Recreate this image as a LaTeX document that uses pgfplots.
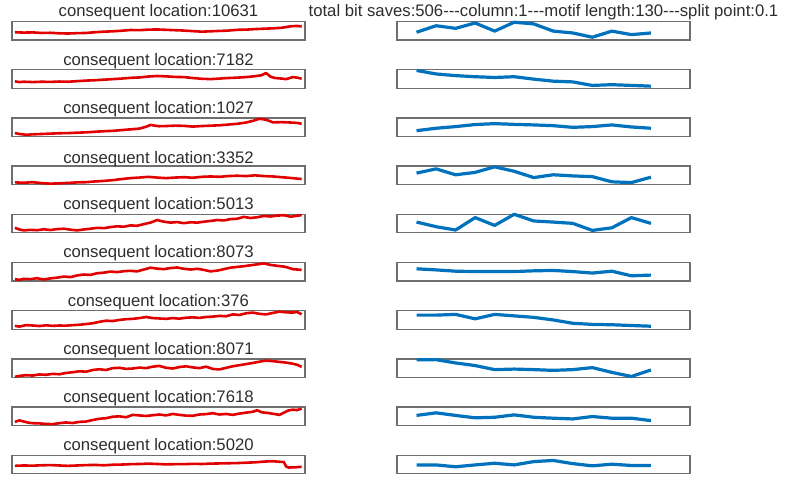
\documentclass[border=0pt]{standalone}
\usepackage{fontspec}
\setmainfont{Liberation Sans}
\usepackage{pgfplots}
\pgfplotsset{compat=1.18}
\definecolor{mred}{RGB}{225,0,0}
\definecolor{mblue}{RGB}{0,114,189}
\definecolor{frm}{RGB}{110,110,110}
\definecolor{txt}{RGB}{45,45,45}
\pgfplotsset{
 every axis title/.style={at={(0.5,1)}, anchor=base, yshift=4.5pt,
   font=\fontsize{16.7}{18}\selectfont, text=txt, inner sep=0pt},
 cell/.style={scale only axis, width=293pt, height=18.5pt,
   axis line style={frm, line width=1.3pt}, xtick=\empty, ytick=\empty,
   ymin=0, ymax=1, anchor=south west, clip=false},
 leftcell/.style={cell, xmin=-0.3, xmax=131.5},
 rightcell/.style={cell, xmin=0, xmax=15},
 rl/.style={mred, line width=2.6pt, line join=round},
 bl/.style={mblue, line width=3.2pt, line join=round},
}
\begin{document}
\begin{tikzpicture}
\path[use as bounding box] (0,0) rectangle (785pt,477pt);
% ---------- row 1
\begin{axis}[leftcell, at={(12pt,437pt)}, title={consequent location:10631}]
\addplot[rl] coordinates {(1,.42)(5,.40)(9,.41)(13,.38)(17,.39)(21,.36)(25,.35)(29,.37)(33,.38)(37,.42)(41,.45)(45,.47)(49,.50)(53,.54)(57,.53)(61,.56)(65,.57)(69,.55)(73,.53)(77,.51)(81,.48)(85,.45)(89,.47)(93,.49)(97,.51)(101,.55)(105,.56)(109,.59)(113,.61)(117,.63)(121,.66)(125,.74)(128,.76)(130,.73)};
\end{axis}
\begin{axis}[rightcell, at={(397pt,437pt)}, title={total bit saves:506-{}-{}-column:1-{}-{}-motif length:130-{}-{}-split point:0.1}]
\addplot[bl] coordinates {(1,.42)(2,.77)(3,.63)(4,.92)(5,.48)(6,.96)(7,.87)(8,.48)(9,.38)(10,.15)(11,.48)(12,.29)(13,.38)};
\end{axis}
% ---------- row 2
\begin{axis}[leftcell, at={(12pt,388.8pt)}, title={consequent location:7182}]
\addplot[rl] coordinates {(1,.37)(3,.33)(5,.35)(9,.33)(13,.35)(17,.34)(21,.36)(25,.35)(29,.38)(33,.41)(37,.43)(41,.46)(45,.49)(49,.52)(53,.56)(57,.58)(61,.63)(65,.66)(69,.64)(73,.61)(77,.60)(81,.55)(85,.51)(89,.49)(93,.52)(97,.55)(101,.57)(105,.60)(109,.65)(112,.70)(114,.82)(116,.62)(118,.55)(121,.52)(123,.49)(126,.60)(128,.57)(130,.51)};
\end{axis}
\begin{axis}[rightcell, at={(397pt,388.8pt)}]
\addplot[bl] coordinates {(1,.96)(2,.77)(3,.68)(4,.62)(5,.58)(6,.62)(7,.49)(8,.38)(9,.34)(10,.15)(11,.19)(12,.15)(13,.11)};
\end{axis}
% ---------- row 3
\begin{axis}[leftcell, at={(12pt,340.6pt)}, title={consequent location:1027}]
\addplot[rl] coordinates {(1,.18)(3,.13)(6,.09)(9,.11)(13,.13)(17,.15)(21,.17)(25,.18)(29,.20)(33,.22)(37,.25)(41,.28)(45,.30)(49,.34)(53,.38)(57,.42)(60,.52)(62,.62)(64,.58)(66,.55)(69,.56)(73,.58)(77,.57)(81,.53)(85,.56)(89,.58)(93,.60)(97,.64)(101,.68)(105,.75)(108,.84)(111,.95)(113,.92)(115,.86)(117,.76)(121,.77)(125,.75)(128,.73)(130,.68)};
\end{axis}
\begin{axis}[rightcell, at={(397pt,340.6pt)}]
\addplot[bl] coordinates {(1,.31)(2,.44)(3,.53)(4,.64)(5,.69)(6,.65)(7,.62)(8,.58)(9,.49)(10,.53)(11,.62)(12,.51)(13,.44)};
\end{axis}
% ---------- row 4
\begin{axis}[leftcell, at={(12pt,292.4pt)}, title={consequent location:3352}, title style={yshift=-1.5pt}]
\addplot[rl] coordinates {(1,.12)(5,.10)(9,.13)(13,.08)(17,.05)(21,.07)(25,.09)(29,.12)(33,.13)(37,.17)(41,.20)(45,.24)(49,.30)(53,.35)(57,.38)(61,.42)(65,.38)(69,.35)(73,.38)(77,.40)(81,.37)(85,.42)(89,.44)(93,.42)(97,.46)(101,.48)(105,.46)(109,.50)(113,.46)(117,.44)(121,.40)(125,.36)(130,.30)};
\end{axis}
\begin{axis}[rightcell, at={(397pt,292.4pt)}]
\addplot[bl] coordinates {(1,.62)(2,.85)(3,.53)(4,.66)(5,.96)(6,.72)(7,.38)(8,.53)(9,.47)(10,.43)(11,.15)(12,.11)(13,.40)};
\end{axis}
% ---------- row 5
\begin{axis}[leftcell, at={(12pt,244.2pt)}, title={consequent location:5013}]
\addplot[rl] coordinates {(1,.27)(3,.18)(5,.13)(8,.16)(11,.14)(14,.19)(17,.15)(20,.20)(23,.22)(26,.17)(29,.13)(32,.18)(35,.22)(38,.27)(41,.25)(44,.31)(47,.35)(50,.33)(53,.40)(56,.38)(59,.47)(62,.55)(65,.69)(68,.60)(71,.55)(74,.58)(77,.52)(80,.57)(83,.55)(86,.60)(89,.64)(92,.69)(95,.67)(98,.74)(101,.76)(104,.86)(107,.80)(110,.84)(113,.91)(116,.88)(119,.93)(122,.95)(125,.87)(128,.92)(130,.96)};
\end{axis}
\begin{axis}[rightcell, at={(397pt,244.2pt)}]
\addplot[bl] coordinates {(1,.58)(2,.33)(3,.15)(4,.82)(5,.40)(6,1.0)(7,.64)(8,.58)(9,.51)(10,.13)(11,.27)(12,.82)(13,.51)};
\end{axis}
% ---------- row 6
\begin{axis}[leftcell, at={(12pt,196pt)}, title={consequent location:8073}]
\addplot[rl] coordinates {(1,.10)(3,.06)(5,.12)(8,.10)(11,.15)(14,.08)(17,.14)(20,.18)(23,.24)(26,.21)(29,.30)(32,.35)(35,.33)(38,.42)(41,.45)(44,.51)(47,.48)(50,.53)(53,.55)(56,.52)(59,.62)(62,.72)(65,.67)(68,.64)(71,.70)(74,.73)(77,.66)(80,.62)(83,.66)(86,.60)(89,.52)(92,.56)(95,.64)(98,.72)(101,.76)(104,.80)(107,.85)(110,.90)(113,.95)(116,.87)(119,.82)(122,.78)(124,.72)(126,.64)(128,.62)(130,.60)};
\end{axis}
\begin{axis}[rightcell, at={(397pt,196pt)}]
\addplot[bl] coordinates {(1,.66)(2,.60)(3,.53)(4,.51)(5,.51)(6,.51)(7,.55)(8,.57)(9,.51)(10,.43)(11,.53)(12,.28)(13,.32)};
\end{axis}
% ---------- row 7
\begin{axis}[leftcell, at={(12pt,147.8pt)}, title={consequent location:376}]
\addplot[rl] coordinates {(1,.18)(3,.14)(6,.22)(9,.20)(12,.17)(15,.21)(18,.18)(21,.20)(24,.19)(27,.22)(30,.24)(33,.28)(36,.32)(39,.40)(42,.46)(45,.44)(48,.50)(51,.54)(54,.56)(57,.60)(60,.66)(63,.60)(66,.58)(69,.56)(72,.60)(75,.57)(78,.62)(81,.64)(84,.61)(87,.66)(90,.68)(93,.72)(96,.70)(99,.80)(102,.77)(105,.86)(108,.90)(111,.83)(114,.80)(117,.88)(120,.95)(123,.91)(126,.90)(128,.93)(130,.80)};
\end{axis}
\begin{axis}[rightcell, at={(397pt,147.8pt)}]
\addplot[bl] coordinates {(1,.76)(2,.76)(3,.80)(4,.56)(5,.80)(6,.72)(7,.64)(8,.50)(9,.32)(10,.26)(11,.24)(12,.20)(13,.16)};
\end{axis}
% ---------- row 8
\begin{axis}[leftcell, at={(12pt,99.6pt)}, title={consequent location:8071}]
\addplot[rl] coordinates {(1,.03)(3,.08)(6,.12)(9,.10)(12,.16)(15,.14)(18,.19)(21,.17)(24,.24)(27,.28)(30,.33)(33,.31)(36,.40)(39,.44)(42,.40)(45,.50)(48,.52)(51,.46)(54,.48)(57,.53)(60,.50)(63,.58)(66,.62)(69,.52)(72,.48)(75,.56)(78,.60)(81,.54)(84,.50)(87,.58)(90,.46)(93,.43)(96,.52)(99,.60)(102,.66)(105,.72)(108,.78)(111,.85)(114,.91)(117,.88)(120,.84)(123,.80)(126,.74)(128,.68)(130,.57)};
\end{axis}
\begin{axis}[rightcell, at={(397pt,99.6pt)}]
\addplot[bl] coordinates {(1,.95)(2,.96)(3,.78)(4,.64)(5,.42)(6,.45)(7,.42)(8,.38)(9,.42)(10,.53)(11,.27)(12,.05)(13,.40)};
\end{axis}
% ---------- row 9
\begin{axis}[leftcell, at={(12pt,51.4pt)}, title={consequent location:7618}]
\addplot[rl] coordinates {(1,.20)(3,.28)(5,.22)(7,.16)(9,.13)(12,.12)(15,.09)(18,.08)(21,.13)(24,.17)(27,.14)(30,.20)(33,.22)(36,.30)(39,.37)(42,.40)(45,.48)(48,.50)(51,.45)(54,.58)(57,.55)(60,.52)(63,.56)(66,.60)(69,.55)(72,.63)(75,.58)(78,.54)(81,.53)(84,.60)(87,.62)(90,.67)(93,.60)(96,.63)(99,.58)(102,.65)(105,.70)(108,.75)(110,.83)(112,.72)(115,.68)(118,.62)(120,.58)(122,.70)(124,.82)(126,.86)(128,.84)(130,.92)};
\end{axis}
\begin{axis}[rightcell, at={(397pt,51.4pt)}]
\addplot[bl] coordinates {(1,.55)(2,.69)(3,.55)(4,.42)(5,.45)(6,.58)(7,.45)(8,.40)(9,.36)(10,.49)(11,.40)(12,.40)(13,.27)};
\end{axis}
% ---------- row 10
\begin{axis}[leftcell, at={(12pt,3.2pt)}, title={consequent location:5020}]
\addplot[rl] coordinates {(1,.43)(5,.45)(9,.44)(13,.46)(17,.47)(21,.45)(25,.43)(29,.45)(33,.47)(37,.48)(41,.46)(45,.49)(49,.50)(53,.52)(57,.53)(61,.55)(65,.53)(69,.51)(73,.52)(77,.52)(81,.54)(85,.53)(89,.55)(93,.56)(97,.57)(101,.58)(105,.60)(109,.62)(113,.66)(117,.68)(120,.65)(122,.64)(123,.40)(124,.34)(127,.35)(130,.38)};
\end{axis}
\begin{axis}[rightcell, at={(397pt,3.2pt)}]
\addplot[bl] coordinates {(1,.48)(2,.48)(3,.38)(4,.48)(5,.57)(6,.48)(7,.66)(8,.72)(9,.55)(10,.43)(11,.52)(12,.45)(13,.45)};
\end{axis}
\end{tikzpicture}
\end{document}
